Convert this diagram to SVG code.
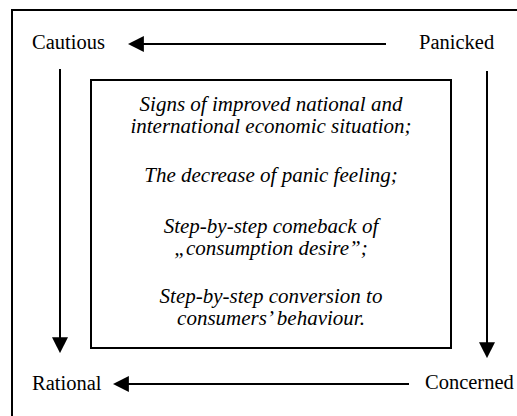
<svg xmlns="http://www.w3.org/2000/svg" width="517" height="416" viewBox="0 0 517 416">
<style>
.lbl{font-family:"Liberation Serif","Times New Roman",serif;font-size:20.5px;fill:#000}
.it{font-family:"Liberation Serif","Times New Roman",serif;font-size:21px;font-style:italic;fill:#000;text-anchor:middle}
.ln{stroke:#000;stroke-width:2;fill:none}
</style>
<defs>
<marker id="ah" markerUnits="userSpaceOnUse" markerWidth="16" markerHeight="16" viewBox="0 0 15 15" refX="13" refY="7.5" orient="auto">
<path d="M0,0 L15,7.5 L0,15 z" fill="#000"/>
</marker>
</defs>
<rect x="12" y="10" width="530" height="430" fill="#fff" stroke="#000" stroke-width="2"/>
<g id="cautious"><text class="lbl" x="32" y="49">Cautious</text></g>
<g id="panicked"><text class="lbl" x="419" y="49">Panicked</text></g>
<g id="rational"><text class="lbl" x="32" y="390">Rational</text></g>
<g id="concerned"><text class="lbl" x="425" y="389">Concerned</text></g>
<g id="factors">
<rect x="91" y="80" width="360" height="268" fill="none" stroke="#000" stroke-width="2"/>
<text class="it" x="271" y="111">Signs of improved national and</text>
<text class="it" x="271" y="133">international economic situation;</text>
<text class="it" x="271" y="182">The decrease of panic feeling;</text>
<text class="it" x="271" y="233">Step-by-step comeback of</text>
<text class="it" x="271" y="255">„consumption desire”;</text>
<text class="it" x="271" y="303">Step-by-step conversion to</text>
<text class="it" x="271" y="325">consumers’ behaviour.</text>
</g>
<g id="connectors">
<line class="ln" x1="386" y1="44" x2="130" y2="44" marker-end="url(#ah)"/>
<line class="ln" x1="60" y1="69" x2="60" y2="351" marker-end="url(#ah)"/>
<line class="ln" x1="487" y1="71" x2="487" y2="356" marker-end="url(#ah)"/>
<line class="ln" x1="409" y1="384" x2="115" y2="384" marker-end="url(#ah)"/>
</g>
</svg>
